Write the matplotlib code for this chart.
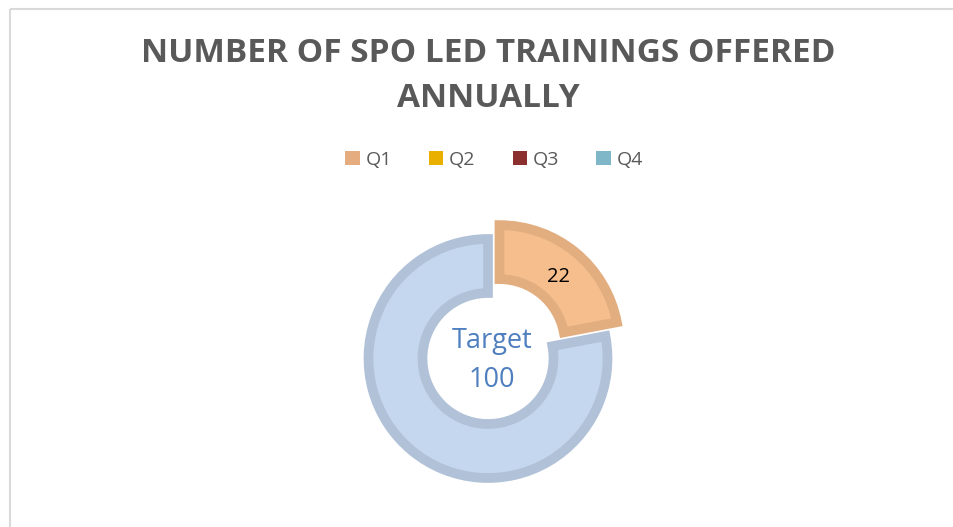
import matplotlib
matplotlib.use("Agg")
import matplotlib.pyplot as plt
from matplotlib.patches import Rectangle, Patch

# data
quarters = ["Q1", "Q2", "Q3", "Q4"]
values = [22, 0, 0, 0]
target = 100
title = "NUMBER OF SPO LED TRAININGS OFFERED\nANNUALLY"

q_fill = ["#F6BE8D", "#E9B000", "#8B2F2F", "#7FB7C8"]
q_edge = ["#E2AE80", "#D4A000", "#7A2828", "#70A5B5"]
legend_cols = ["#E5AD7F", "#E9B000", "#8B2F2F", "#7FB7C8"]
rest_fill, rest_edge = "#C5D7EE", "#B1C2D8"

plt.rcParams["font.family"] = ["Open Sans", "DejaVu Sans"]
W, H = 954, 527
fig = plt.figure(figsize=(W / 100, H / 100), dpi=100)
ax = fig.add_axes([0, 0, 1, 1])

# chart frame (runs off the right / bottom of the crop)
ax.add_patch(Rectangle((10, 8.5), 960, 560, fill=False, ec="#D9D9D9", lw=1.5))

# donut: non-zero quarters then remainder to target
sizes, fills, edges, explode = [], [], [], []
for v, f, e in zip(values, q_fill, q_edge):
    if v > 0:
        sizes.append(v); fills.append(f); edges.append(e); explode.append(18)
sizes.append(target - sum(values)); fills.append(rest_fill); edges.append(rest_edge)
explode.append(0)

cx, cy, R = 488, 358.5, 119.5
# y axis inverted -> counterclock=True draws clockwise on screen
wedges, _ = ax.pie(sizes, colors=fills, explode=explode, startangle=-90,
                   counterclock=True, center=(cx, cy), radius=R, frame=True,
                   wedgeprops=dict(width=54, linewidth=7, joinstyle="miter"))
for w, e in zip(wedges, edges):
    w.set_edgecolor(e)
ax.set_xlim(0, W)
ax.set_ylim(H, 0)
ax.set_aspect("equal")
ax.axis("off")

ax.text(559, 277, str(values[0]), ha="center", va="center", fontsize=14.5,
        color="black")
ax.text(cx + 4, cy + 2, f"Target\n{target}", ha="center", va="center", fontsize=19.5,
        color="#4F7FBE", linespacing=1.55)

ax.text(488, 76, title, ha="center", va="center", fontsize=24, fontweight="bold",
        color="#595959", linespacing=1.5)

handles = [Patch(facecolor=c, edgecolor="none") for c in legend_cols]
leg = fig.legend(handles, quarters, loc="center", bbox_to_anchor=(494 / W, 1 - 160 / H),
                 ncol=4, frameon=False, handlelength=0.75, handleheight=0.75,
                 handletextpad=0.3, columnspacing=1.9,
                 prop={"family": ["Open Sans", "DejaVu Sans"], "size": 14})
for t in leg.get_texts():
    t.set_color("#595959")

fig.savefig("out.png", dpi=100)
